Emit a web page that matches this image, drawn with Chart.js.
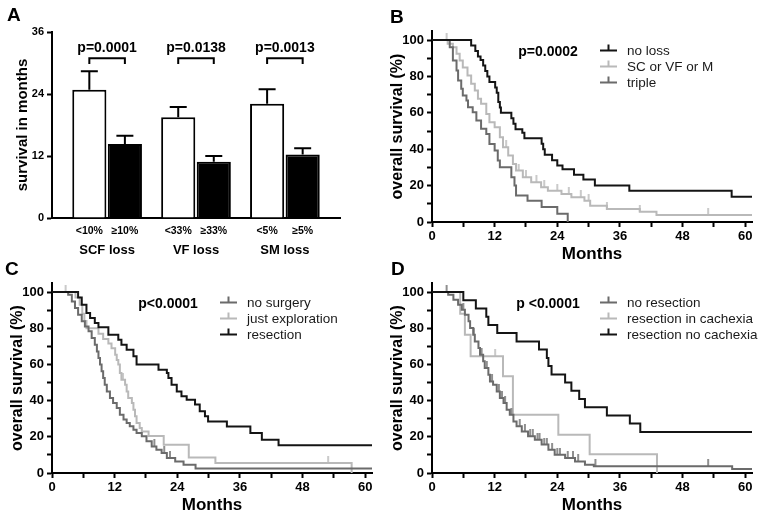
<!DOCTYPE html>
<html>
<head>
<meta charset="utf-8">
<script src="https://cdn.jsdelivr.net/npm/chart.js@4.4.1/dist/chart.umd.min.js"></script>
<style>
  body { margin: 0; background: #fff; }
  #wrap { position: relative; width: 760px; height: 521px; overflow: hidden; background: #fff; }
  #wrap canvas { position: absolute; }
  .letter { position: absolute; font: bold 19px "Liberation Sans", Arial, sans-serif; line-height: 19px; color: #000; }
</style>
</head>
<body>
<div id="wrap">
  <canvas id="chartA" width="380" height="262" style="left:0;top:0"></canvas>
  <canvas id="chartB" width="380" height="270" style="left:380px;top:0"></canvas>
  <canvas id="chartC" width="380" height="261" style="left:0;top:260px"></canvas>
  <canvas id="chartD" width="380" height="261" style="left:380px;top:260px"></canvas>
  <div class="letter" style="left:7px;top:5px">A</div>
  <div class="letter" style="left:390px;top:7px">B</div>
  <div class="letter" style="left:5px;top:259px">C</div>
  <div class="letter" style="left:391px;top:259px">D</div>
</div>
<script>
var FONT = '"Liberation Sans", Arial, sans-serif';
Chart.defaults.font.family = FONT;
Chart.defaults.color = '#000';
Chart.defaults.animation = false;

var BLACK = '#141414';
var DARK = '#6b6b6b';
var LIGHT = '#b9b9b9';

// Panel A - survival by tissue loss
const groupLabels = ['SCF loss', 'VF loss', 'SM loss'];
const lowLabels = ['<10%', '<33%', '<5%'];
const highLabels = ['\u226510%', '\u226533%', '\u22655%'];
const lowMeans = [24.8, 19.5, 22.1];
const lowSem = [3.6, 2.0, 2.8];
const highMeans = [14.3, 10.9, 12.3];
const highSem = [1.6, 1.1, 1.2];
const pValuesA = ['p=0.0001', 'p=0.0138', 'p=0.0013'];

// Panel B - no loss / SC or VF or M / triple
const bNoLossT = [7.5, 8.3, 8.8, 9.3, 9.8, 10.2, 10.6, 11.0, 12.1, 12.4, 12.7, 13.0, 13.2, 15.2, 15.6, 16.0, 17.3, 17.7, 21.0, 21.3, 21.6, 23.0, 24.0, 25.0, 27.2, 29.0, 31.2, 37.8, 57.4];
const bNoLossS = [97, 94, 91, 89, 86, 83, 80, 77, 74, 71, 66, 63, 60, 57, 54, 51, 49, 46, 43, 40, 37, 34, 31, 29, 26, 23.3, 20, 17.2, 13.9];
const bAnyT = [3.0, 4.0, 4.7, 5.3, 5.9, 6.8, 7.5, 8.2, 8.8, 9.4, 10.4, 11.0, 12.0, 13.0, 13.6, 14.6, 15.5, 16.1, 17.4, 19.0, 20.9, 22.2, 24.8, 26.7, 29.2, 30.3, 33.5, 39.8, 43.0];
const bAnyS = [98, 96, 92.5, 88.8, 85, 80.6, 76, 72.3, 67.7, 65, 59.4, 54.9, 52.1, 46.6, 41.1, 36.5, 31.9, 28.3, 24.6, 21.8, 19.1, 17.2, 15.4, 13.6, 11.7, 9.0, 7.2, 5.7, 3.9];
const bAnyCensor = [2.8, 14.2, 16.6, 18.0, 20.0, 21.5, 24.0, 26.2, 28.5, 30.0, 33.5, 39.8, 52.9];
const bTripleT = [3.4, 4.0, 4.7, 5.0, 5.6, 5.9, 6.6, 6.9, 7.8, 8.5, 9.4, 10.4, 11.0, 12.0, 12.6, 13.0, 15.2, 15.8, 16.1, 18.3, 21.0, 24.0, 26.0];
const bTripleS = [96, 88.8, 83.3, 77.8, 73.2, 69.5, 66.8, 63.1, 60.4, 55.8, 51.2, 48.4, 42.9, 39.3, 33.8, 30.1, 24.6, 20, 14.5, 11.7, 8.3, 4.6, 0];

// Panel C - no surgery / just exploration / resection
const cNoSurgT = [3.1, 3.8, 4.4, 5.0, 5.7, 6.3, 7.0, 7.6, 8.2, 8.6, 8.9, 9.2, 9.5, 9.8, 10.1, 10.5, 11.1, 11.7, 12.4, 13.0, 13.7, 14.3, 14.9, 15.6, 16.2, 17.2, 18.1, 19.1, 20.0, 21.0, 22.0, 23.6, 25.2, 27.5];
const cNoSurgS = [98.5, 94.8, 91.2, 87.5, 83.8, 81.0, 78.3, 74.6, 70.9, 67.2, 63.5, 59.9, 56.2, 52.5, 48.8, 45.1, 41.4, 38.7, 35.9, 32.2, 29.5, 27.6, 25.8, 23.9, 22.1, 20.3, 17.5, 14.7, 12.9, 11.0, 8.3, 6.4, 4.6, 2.5];
const cNoSurgCensor = [19.6, 21.5, 22.6];
const cExplT = [4.5, 5.3, 5.8, 6.2, 6.6, 8.9, 9.8, 10.8, 11.4, 12.1, 12.4, 12.7, 13.0, 13.3, 14.0, 14.3, 14.6, 15.3, 15.6, 15.9, 16.2, 16.8, 17.2, 18.5, 21.4, 26.2, 31.3, 57.4];
const cExplS = [97, 93, 88, 84, 80, 77, 74, 71.5, 69, 65.4, 62.5, 59.9, 55.2, 51.6, 48.8, 45.1, 41.4, 38.7, 35, 31.3, 27.6, 24.9, 23.0, 20.5, 15.6, 8.5, 5.5, 0];
const cExplCensor = [2.6, 13.6, 52.9];
const cResT = [5.0, 5.7, 6.6, 7.3, 8.2, 8.9, 10.8, 12.7, 13.3, 14.3, 15.6, 16.2, 20.4, 22.0, 22.3, 22.9, 23.9, 24.8, 25.8, 27.4, 28.3, 29.3, 29.9, 33.5, 38.0, 40.2, 43.4];
const cResS = [97, 93, 88.4, 85.6, 82.9, 80.5, 76.4, 73.7, 70.9, 68.1, 64.5, 59.9, 57.1, 55.2, 52.5, 48.8, 45.1, 42.4, 40.5, 37.8, 34.1, 31.3, 28.5, 25.7, 22.1, 18.4, 15.3];

// Panel D - no resection / resection in cachexia / resection no cachexia
const dNoResT = [3.1, 4.1, 5.0, 5.7, 6.3, 7.0, 7.3, 7.9, 8.2, 8.9, 9.2, 9.8, 10.1, 10.8, 11.1, 11.7, 12.4, 13.0, 13.7, 14.3, 14.9, 15.6, 16.2, 17.2, 18.4, 19.7, 21.0, 22.3, 23.5, 25.5, 27.4, 29.3, 31.0, 57.5];
const dNoResS = [98.5, 95.8, 93.0, 90.2, 87.5, 83.8, 80.1, 76.4, 72.7, 69.1, 65.4, 61.7, 58.0, 54.3, 50.6, 48.8, 45.1, 41.4, 38.7, 35.0, 32.2, 28.5, 25.8, 23.0, 20.3, 18.4, 15.7, 12.9, 10.1, 8.3, 6.4, 4.6, 3.7, 2.2];
const dNoResCensor = [2.8, 6.0, 8.0, 9.5, 10.5, 11.5, 12.8, 13.4, 14.0, 15.2, 16.8, 17.8, 18.8, 19.3, 20.2, 20.6, 21.5, 22.0, 23.0, 24.0, 24.5, 26.0, 27.0, 28.0, 31.3, 52.9];
const dCachT = [5.4, 6.3, 7.4, 13.6, 15.5, 24.2, 30.2, 43.1];
const dCachS = [88, 76.4, 64.5, 53.4, 32.2, 21.2, 10.4, 0];
const dCachCensor = [12.1];
const dNoCachT = [6.0, 8.4, 10.4, 10.8, 12.5, 16.2, 20.5, 22.0, 22.3, 22.9, 25.5, 26.7, 28.2, 29.3, 33.5, 37.9, 39.9];
const dNoCachS = [95.5, 90.9, 86.4, 81.8, 77.3, 72.7, 68.2, 63.6, 59.1, 54.5, 50, 45.5, 40.9, 36.4, 31.8, 27.3, 22.7];

const monthMax = 61.3;
const survMax = 105;

// ---------- panel A ----------
var barExtras = {
  id: 'barExtras',
  afterDatasetsDraw: function(chart) {
    var ctx = chart.ctx;
    var y = chart.scales.y;
    var a = chart.chartArea;
    var lowBars = chart.getDatasetMeta(0).data;
    var highBars = chart.getDatasetMeta(1).data;
    ctx.save();
    ctx.strokeStyle = '#000';
    ctx.lineWidth = 2;
    ctx.fillStyle = '#000';
    ctx.textAlign = 'center';
    ctx.textBaseline = 'middle';
    for (var i = 0; i < groupLabels.length; i++) {
      // error bars (mean + SEM)
      [[lowBars[i], lowMeans[i], lowSem[i]], [highBars[i], highMeans[i], highSem[i]]].forEach(function(b) {
        var top = y.getPixelForValue(b[1]);
        var err = y.getPixelForValue(b[1] + b[2]);
        ctx.beginPath();
        ctx.moveTo(b[0].x, top);
        ctx.lineTo(b[0].x, err);
        ctx.moveTo(b[0].x - 8.5, err);
        ctx.lineTo(b[0].x + 8.5, err);
        ctx.stroke();
      });
      // bracket + p value
      var yb = y.getPixelForValue(30.9);
      var yl = y.getPixelForValue(29.8);
      ctx.beginPath();
      ctx.moveTo(lowBars[i].x, yl);
      ctx.lineTo(lowBars[i].x, yb);
      ctx.lineTo(highBars[i].x, yb);
      ctx.lineTo(highBars[i].x, yl);
      ctx.stroke();
      var mid = (lowBars[i].x + highBars[i].x) / 2;
      ctx.font = 'bold 14px ' + FONT;
      ctx.fillText(pValuesA[i], mid, y.getPixelForValue(32.9));
      // labels under axis
      ctx.font = 'bold 10.5px ' + FONT;
      ctx.fillText(lowLabels[i], lowBars[i].x, a.bottom + 13);
      ctx.fillText(highLabels[i], highBars[i].x, a.bottom + 13);
      ctx.font = 'bold 13px ' + FONT;
      ctx.fillText(groupLabels[i], mid, a.bottom + 32);
    }
    ctx.restore();
  }
};

new Chart('chartA', {
  type: 'bar',
  data: {
    datasets: [{
      data: lowMeans.map(function(v, i) { return {x: i, y: v}; }),
      backgroundColor: '#fff',
      borderColor: '#000',
      borderWidth: 2
    }, {
      data: highMeans.map(function(v, i) { return {x: i, y: v}; }),
      backgroundColor: '#000',
      borderColor: '#000',
      borderWidth: 2
    }]
  },
  options: {
    responsive: false,
    categoryPercentage: 0.8,
    barPercentage: 0.96,
    layout: { padding: { top: 32, right: 40, left: 0, bottom: 0 } },
    plugins: { legend: { display: false }, tooltip: { enabled: false } },
    scales: {
      x: {
        type: 'linear', min: -0.62, max: 2.62, offset: false,
        ticks: { display: false },
        grid: { drawOnChartArea: false, drawTicks: false, offset: false },
        border: { color: '#000', width: 2 },
        afterBuildTicks: function(s) { s.ticks = groupLabels.map(function(g, i) { return {value: i}; }); },
        afterFit: function(s) { s.height = 44; }
      },
      y: {
        min: 0, max: 36,
        ticks: { stepSize: 12, font: { size: 11, weight: 'bold' }, padding: 3 },
        grid: { drawOnChartArea: false, tickLength: 5, tickColor: '#000', tickWidth: 2 },
        border: { color: '#000', width: 2 },
        title: { display: true, text: 'survival in months', font: { size: 15, weight: 'bold' }, padding: { top: 14, bottom: 0 } },
        afterFit: function(s) { s.width = 52; }
      }
    }
  },
  plugins: [barExtras]
});

// ---------- Kaplan-Meier panels ----------
function kmPoints(times, surv) {
  var pts = [{x: 0, y: 100}];
  for (var i = 0; i < times.length; i++) pts.push({x: times[i], y: surv[i]});
  if (surv[surv.length - 1] > 0) pts.push({x: monthMax, y: surv[surv.length - 1]});
  return pts;
}

function survAt(times, surv, t) {
  var s = 100;
  for (var i = 0; i < times.length; i++) if (times[i] <= t) s = surv[i];
  return s;
}

// censor mark: small tick standing up from the curve
function tickImage(color) {
  var c = document.createElement('canvas');
  c.width = 4;
  c.height = 14;
  var g = c.getContext('2d');
  g.fillStyle = color;
  g.fillRect(1.25, 0, 1.5, 7);
  return c;
}

var kmLegend = {
  id: 'kmLegend',
  afterDraw: function(chart, args, o) {
    var ctx = chart.ctx;
    var a = chart.chartArea;
    ctx.save();
    ctx.fillStyle = '#000';
    ctx.textAlign = 'center';
    ctx.textBaseline = 'middle';
    ctx.font = 'bold 14px ' + FONT;
    ctx.fillText(o.pText, a.left + 116, a.top + 21);
    o.items.forEach(function(it, i) {
      var y = a.top + 19.5 + i * 16;
      var x0 = a.left + 168;
      ctx.strokeStyle = it.color;
      ctx.lineWidth = 2;
      ctx.beginPath();
      ctx.moveTo(x0, y);
      ctx.lineTo(x0 + 17, y);
      ctx.moveTo(x0 + 8.5, y);
      ctx.lineTo(x0 + 8.5, y - 6);
      ctx.stroke();
      ctx.fillStyle = '#1a1a1a';
      ctx.textAlign = 'left';
      ctx.font = '13.5px ' + FONT;
      ctx.fillText(it.label, x0 + 27, y + 1);
    });
    ctx.restore();
  }
};

function makeKM(id, curves, pText, topPad, xHeight) {
  var datasets = [];
  curves.forEach(function(c, i) {
    datasets.push({
      type: 'line',
      data: kmPoints(c.t, c.s),
      stepped: true,
      borderColor: c.color,
      borderWidth: 2,
      pointRadius: 0,
      fill: false,
      order: c.order
    });
    if (c.censor) {
      datasets.push({
        type: 'line',
        showLine: false,
        data: c.censor.map(function(t) { return {x: t, y: survAt(c.t, c.s, t)}; }),
        pointStyle: tickImage(c.color),
        pointRadius: 3,
        order: c.order
      });
    }
  });
  new Chart(id, {
    type: 'line',
    data: { datasets: datasets },
    options: {
      responsive: false,
      layout: { padding: { top: topPad, right: 8, left: 0, bottom: 0 } },
      plugins: {
        legend: { display: false },
        tooltip: { enabled: false },
        kmLegend: { pText: pText, items: curves.map(function(c) { return {label: c.label, color: c.color}; }) }
      },
      scales: {
        x: {
          type: 'linear', min: 0, max: monthMax,
          ticks: {
            stepSize: 6, includeBounds: false, autoSkip: false, maxRotation: 0, padding: 2,
            font: { size: 13, weight: 'bold' },
            callback: function(v) { return v % 12 === 0 ? v : ''; }
          },
          grid: { drawOnChartArea: false, tickLength: 5, tickColor: '#000', tickWidth: 2 },
          border: { color: '#000', width: 2 },
          title: { display: true, text: 'Months', font: { size: 17, weight: 'bold' }, padding: { top: 0, bottom: 5 } },
          afterFit: function(s) { s.height = xHeight; }
        },
        y: {
          type: 'linear', min: 0, max: survMax,
          ticks: {
            stepSize: 10, includeBounds: false, autoSkip: false, padding: 3,
            font: { size: 13, weight: 'bold' },
            callback: function(v) { return v % 20 === 0 ? v : ''; }
          },
          grid: { drawOnChartArea: false, tickLength: 5, tickColor: '#000', tickWidth: 2 },
          border: { color: '#000', width: 2 },
          title: { display: true, text: 'overall survival (%)', font: { size: 16, weight: 'bold' }, padding: { top: 8, bottom: 0 } },
          afterFit: function(s) { s.width = 52; }
        }
      }
    },
    plugins: [kmLegend]
  });
}

makeKM('chartB', [
  { label: 'no loss', color: BLACK, t: bNoLossT, s: bNoLossS, order: 1 },
  { label: 'SC or VF or M', color: LIGHT, t: bAnyT, s: bAnyS, censor: bAnyCensor, order: 3 },
  { label: 'triple', color: DARK, t: bTripleT, s: bTripleS, order: 2 }
], 'p=0.0002', 31, 48);

makeKM('chartC', [
  { label: 'no surgery', color: DARK, t: cNoSurgT, s: cNoSurgS, censor: cNoSurgCensor, order: 2 },
  { label: 'just exploration', color: LIGHT, t: cExplT, s: cExplS, censor: cExplCensor, order: 3 },
  { label: 'resection', color: BLACK, t: cResT, s: cResS, order: 1 }
], 'p<0.0001', 23, 48);

makeKM('chartD', [
  { label: 'no resection', color: DARK, t: dNoResT, s: dNoResS, censor: dNoResCensor, order: 2 },
  { label: 'resection in cachexia', color: LIGHT, t: dCachT, s: dCachS, censor: dCachCensor, order: 3 },
  { label: 'resection no cachexia', color: BLACK, t: dNoCachT, s: dNoCachS, order: 1 }
], 'p <0.0001', 23, 48);
</script>
</body>
</html>
